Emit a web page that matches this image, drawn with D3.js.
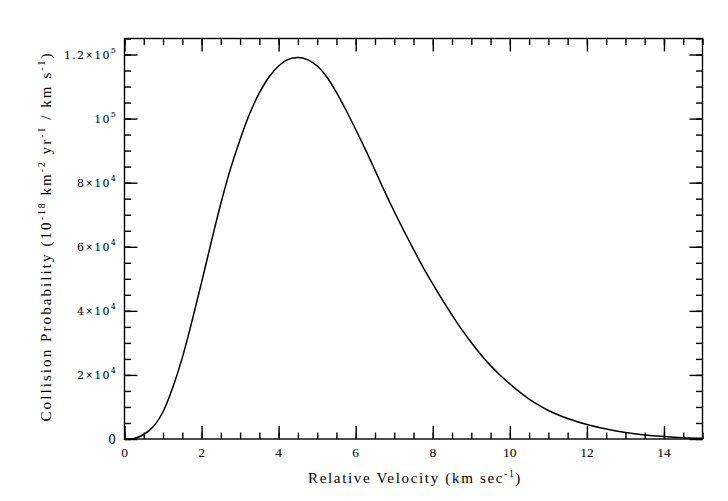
<!DOCTYPE html>
<html>
<head>
<meta charset="utf-8">
<script src="https://cdn.jsdelivr.net/npm/d3@7"></script>
<style>
  html, body { margin: 0; padding: 0; background: #fff; }
  svg { display: block; }
  text { font-family: "Liberation Serif", "DejaVu Serif", serif; fill: #000; }
</style>
</head>
<body>
<svg id="chart" width="728" height="501"></svg>
<script>
// ---- data ----
const velocity = [0, 0.25, 0.5, 0.75, 1.0, 1.25, 1.5, 1.75, 2.0, 2.25, 2.5, 2.75, 3.0, 3.25, 3.5, 3.75,
  4.0, 4.25, 4.5, 4.75, 5.0, 5.25, 5.5, 5.75, 6.0, 6.25, 6.5, 6.75, 7.0, 7.25, 7.5, 7.75,
  8.0, 8.25, 8.5, 8.75, 9.0, 9.25, 9.5, 9.75, 10.0, 10.25, 10.5, 10.75, 11.0, 11.25, 11.5,
  12.0, 12.5, 13.0, 13.5, 14.0, 14.5, 15.0];
const probability = [0, 200, 1400, 3900, 8500, 16000, 25400, 36700, 48900, 61400, 73500, 84300, 93500, 101600, 108000, 113000,
  116400, 118500, 119100, 118400, 116400, 113000, 108200, 102600, 96600, 90400, 83900, 77300, 71000, 65000, 59200, 53600,
  48400, 43400, 38700, 34200, 30100, 26300, 22900, 19900, 17200, 14700, 12450, 10550, 8900, 7550, 6400,
  4500, 3100, 2000, 1250, 780, 420, 200];

const xMajorTicks = [0, 2, 4, 6, 8, 10, 12, 14];
const xTickLabels = ["0", "2", "4", "6", "8", "10", "12", "14"];
const xMinorTicks = d3.range(0, 15.01, 0.5);
const yMajorTicks = [0, 20000, 40000, 60000, 80000, 100000, 120000];
const yTickMantissa = ["0", "2", "4", "6", "8", "", "1.2"];
const yTickExponent = ["", "4", "4", "4", "4", "5", "5"];
const yMinorTicks = d3.range(0, 125001, 5000);

const xDomain = [0, 15];
const yDomain = [0, 125000];

// ---- layout ----
const svg = d3.select("#chart");
const L = 124.5, R = 702.5, T = 38.5, B = 439;
const x = d3.scaleLinear().domain(xDomain).range([L, R]);
const y = d3.scaleLinear().domain(yDomain).range([B, T]);

const majorLen = 13, minorLen = 6.5;
const axStroke = 1.4;

function styleAxis(g) {
  g.select(".domain").remove();
  g.selectAll("line").attr("stroke", "#000").attr("stroke-width", axStroke);
  g.selectAll("text").remove();
}

// bottom / top
svg.append("g").attr("transform", `translate(0,${B})`)
  .call(d3.axisBottom(x).tickValues(xMinorTicks).tickSize(-minorLen).tickSizeOuter(0).tickFormat(""))
  .call(styleAxis);
svg.append("g").attr("transform", `translate(0,${B})`)
  .call(d3.axisBottom(x).tickValues(xMajorTicks).tickSize(-majorLen).tickSizeOuter(0).tickFormat(""))
  .call(styleAxis);
svg.append("g").attr("transform", `translate(0,${T})`)
  .call(d3.axisTop(x).tickValues(xMinorTicks).tickSize(-minorLen).tickSizeOuter(0).tickFormat(""))
  .call(styleAxis);
svg.append("g").attr("transform", `translate(0,${T})`)
  .call(d3.axisTop(x).tickValues(xMajorTicks).tickSize(-majorLen).tickSizeOuter(0).tickFormat(""))
  .call(styleAxis);
// left / right
svg.append("g").attr("transform", `translate(${L},0)`)
  .call(d3.axisLeft(y).tickValues(yMinorTicks).tickSize(-minorLen).tickSizeOuter(0).tickFormat(""))
  .call(styleAxis);
svg.append("g").attr("transform", `translate(${L},0)`)
  .call(d3.axisLeft(y).tickValues(yMajorTicks).tickSize(-majorLen).tickSizeOuter(0).tickFormat(""))
  .call(styleAxis);
svg.append("g").attr("transform", `translate(${R},0)`)
  .call(d3.axisRight(y).tickValues(yMinorTicks).tickSize(-minorLen).tickSizeOuter(0).tickFormat(""))
  .call(styleAxis);
svg.append("g").attr("transform", `translate(${R},0)`)
  .call(d3.axisRight(y).tickValues(yMajorTicks).tickSize(-majorLen).tickSizeOuter(0).tickFormat(""))
  .call(styleAxis);

// frame
svg.append("rect").attr("x", L).attr("y", T).attr("width", R - L).attr("height", B - T)
  .attr("fill", "none").attr("stroke", "#000").attr("stroke-width", axStroke);

// x tick labels
svg.append("g").selectAll("text").data(xMajorTicks).join("text")
  .attr("x", d => x(d)).attr("y", 457)
  .attr("text-anchor", "middle").attr("font-size", 13.5)
  .text((d, i) => xTickLabels[i]);

// y tick labels
const yl = svg.append("g").selectAll("text").data(yMajorTicks).join("text")
  .attr("x", 117).attr("y", d => y(d) + 4)
  .attr("text-anchor", "end")
  .style("font-family", "'DejaVu Serif', serif")
  .attr("font-size", 11).attr("letter-spacing", 1.2);
yl.each(function(d, i) {
  const t = d3.select(this);
  const m = yTickMantissa[i], e = yTickExponent[i];
  if (e === "") { t.attr("font-size", 12).attr("y", y(d) + 4.5).text(m); return; }
  if (m !== "") {
    t.append("tspan").text(m);
    t.append("tspan").attr("font-size", 9.5).attr("dy", -0.5).text("×");
    t.append("tspan").attr("dy", 0.5).text("10");
  } else {
    t.append("tspan").text("10");
  }
  t.append("tspan").attr("font-size", 8).attr("dy", -5.5).text(e);
});

// curve
const pts = velocity.map((v, i) => [v, probability[i]]);
svg.append("path").datum(pts)
  .attr("fill", "none").attr("stroke", "#000").attr("stroke-width", 1.5)
  .attr("d", d3.line().x(d => x(d[0])).y(d => y(d[1])).curve(d3.curveCatmullRom.alpha(0.5)));

// axis titles
function fitSpacing(sel, target) {
  const node = sel.node();
  const natural = node.getComputedTextLength();
  const n = node.textContent.length;
  sel.attr("letter-spacing", Math.max(0, (target - natural) / n));
}

const xt = svg.append("text").attr("x", 415).attr("y", 483)
  .attr("text-anchor", "middle").attr("font-size", 15);
xt.append("tspan").text("Relative Velocity (km sec");
xt.append("tspan").attr("font-size", 9.5).attr("dy", -6).text("-1");
xt.append("tspan").attr("dy", 6).text(")");
fitSpacing(xt, 214);

const yt = svg.append("text").attr("transform", "translate(51,236.5) rotate(-90)")
  .attr("text-anchor", "middle").attr("font-size", 15);
yt.append("tspan").text("Collision Probability (10");
yt.append("tspan").attr("font-size", 9.5).attr("dy", -6).text("-18");
yt.append("tspan").attr("dy", 6).text(" km");
yt.append("tspan").attr("font-size", 9.5).attr("dy", -6).text("-2");
yt.append("tspan").attr("dy", 6).text(" yr");
yt.append("tspan").attr("font-size", 9.5).attr("dy", -6).text("-1");
yt.append("tspan").attr("dy", 6).text(" / km s");
yt.append("tspan").attr("font-size", 9.5).attr("dy", -6).text("-1");
yt.append("tspan").attr("dy", 6).text(")");
fitSpacing(yt, 370);
</script>
</body>
</html>
